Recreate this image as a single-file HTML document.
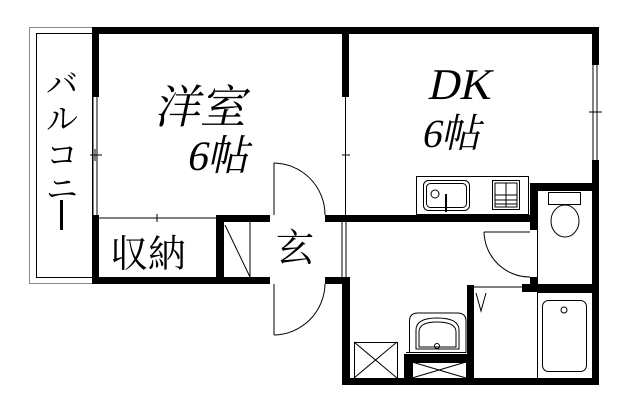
<!DOCTYPE html>
<html><head><meta charset="utf-8"><style>
html,body{margin:0;padding:0;background:#fff;}
svg{display:block;}
text{font-family:"Liberation Serif","Noto Serif CJK SC",serif;fill:#000;}
</style></head><body>
<svg width="640" height="412" viewBox="0 0 640 412" xmlns="http://www.w3.org/2000/svg">
<rect x="29.5" y="27.5" width="63" height="256" fill="none" stroke="#888" stroke-width="1"/>
<rect x="36.5" y="33.5" width="56" height="244" fill="none" stroke="#000" stroke-width="1"/>
<g fill="#000">
<rect x="92" y="27" width="507" height="7"/>
<rect x="92" y="27" width="7" height="70"/>
<rect x="92" y="215" width="7" height="69"/>
<rect x="92" y="277" width="178" height="7"/>
<rect x="325" y="277" width="25" height="7"/>
<rect x="342" y="27" width="7" height="70"/>
<rect x="216" y="215" width="54" height="7"/>
<rect x="325" y="215" width="210" height="7"/>
<rect x="216" y="215" width="8" height="69"/>
<rect x="342" y="277" width="8" height="108"/>
<rect x="592" y="27" width="7" height="38"/>
<rect x="592" y="160" width="7" height="225"/>
<rect x="530" y="183" width="69" height="7"/>
<rect x="530" y="183" width="7" height="47"/>
<rect x="530" y="277" width="7" height="15"/>
<rect x="522" y="284" width="77" height="8"/>
<rect x="467" y="285" width="7" height="100"/>
<rect x="342" y="378" width="257" height="7"/>
</g>
<g fill="none" stroke="#000" stroke-width="1">
<line x1="93" y1="97" x2="93" y2="215"/><line x1="97" y1="97" x2="97" y2="215"/>
<line x1="90" y1="155" x2="102" y2="155"/><line x1="95" y1="149" x2="95" y2="161"/>
<line x1="345.5" y1="97" x2="345.5" y2="215"/><line x1="342" y1="155" x2="350" y2="155"/>
<line x1="593" y1="65" x2="593" y2="160"/><line x1="597" y1="65" x2="597" y2="160"/>
<line x1="589" y1="112" x2="602" y2="112"/>
<line x1="99" y1="218" x2="216" y2="218"/>
<line x1="157" y1="214" x2="157" y2="222"/>
<line x1="250" y1="222" x2="250" y2="277"/>
<line x1="225" y1="225" x2="250" y2="277"/>
<line x1="342" y1="222" x2="342" y2="277"/>
<line x1="346" y1="222" x2="346" y2="277"/>
<line x1="274" y1="163" x2="274" y2="215"/>
<path d="M274 163 A52 52 0 0 1 325 215"/>
<line x1="274" y1="284" x2="274" y2="335"/>
<path d="M274 335 A52 52 0 0 0 325 284"/>
<line x1="484" y1="232" x2="530" y2="232"/>
<path d="M484 232 A46 46 0 0 0 530 277"/>
<line x1="474" y1="287" x2="522" y2="287"/>
<path d="M476 293 L481 311 L486 293"/>
<rect x="416.5" y="176.5" width="112" height="38"/>
<rect x="423.5" y="180.5" width="46" height="30" rx="5"/>
<rect x="426.5" y="183.5" width="40" height="24" rx="4"/>
<circle cx="435" cy="194" r="4"/>
<line x1="446" y1="194" x2="446" y2="212" stroke-width="2"/>
<rect x="492.5" y="180.5" width="27" height="29"/>
<rect x="495" y="183" width="22" height="24"/>
<line x1="495" y1="195" x2="517" y2="195"/><line x1="495" y1="200" x2="517" y2="200"/><line x1="495" y1="204" x2="517" y2="204"/>
<line x1="506" y1="183" x2="506" y2="207"/>
<rect x="537.5" y="190.5" width="55" height="94"/>
<rect x="548.5" y="192.5" width="32" height="12"/>
<ellipse cx="565" cy="221" rx="14" ry="16"/>
<rect x="537.5" y="292.5" width="55" height="86"/>
<rect x="542.5" y="300.5" width="44" height="71" rx="6"/>
<circle cx="564" cy="310" r="3"/>
<path d="M409.5 352.5 V321 Q409.5 313 418 313 H457 Q466 313 466 321 V352.5 Z"/>
<path d="M416 349 V330 Q416 318 437 318 Q459 318 459 330 V349 Z"/>
<path d="M419 347 V332 Q419 322 437 322 Q456 322 456 332 V347 Z"/>
<circle cx="437" cy="346" r="2.5"/>
<line x1="406" y1="352.5" x2="466" y2="352.5"/>
<rect x="412.5" y="362.5" width="54" height="16"/>
<line x1="412" y1="362" x2="466" y2="378"/><line x1="412" y1="378" x2="466" y2="362"/>
<rect x="354.5" y="342.5" width="43" height="36"/>
<line x1="354" y1="342" x2="397" y2="378"/><line x1="354" y1="378" x2="397" y2="342"/>
</g>
<rect x="404" y="354" width="8" height="31" fill="#000"/>
<rect x="404" y="354" width="63" height="8" fill="#000"/>
<g transform="translate(0,0) skewX(-12)">
<text x="180" y="123" font-size="46">洋室</text>
<text x="222" y="170" font-size="42">6帖</text>
<text x="448" y="99" font-size="44">DK</text>
<text x="452" y="147" font-size="40">6帖</text>
</g>
<text x="110" y="267" font-size="38">収納</text>
<text x="276" y="261" font-size="38">玄</text>
<g font-size="32">
<text x="46" y="95">バ</text>
<text x="46" y="130">ル</text>
<text x="46" y="166">コ</text>
<text x="46" y="200">ニ</text>
</g>
<rect x="60" y="200" width="3" height="30" fill="#000"/>
</svg>
</body></html>
